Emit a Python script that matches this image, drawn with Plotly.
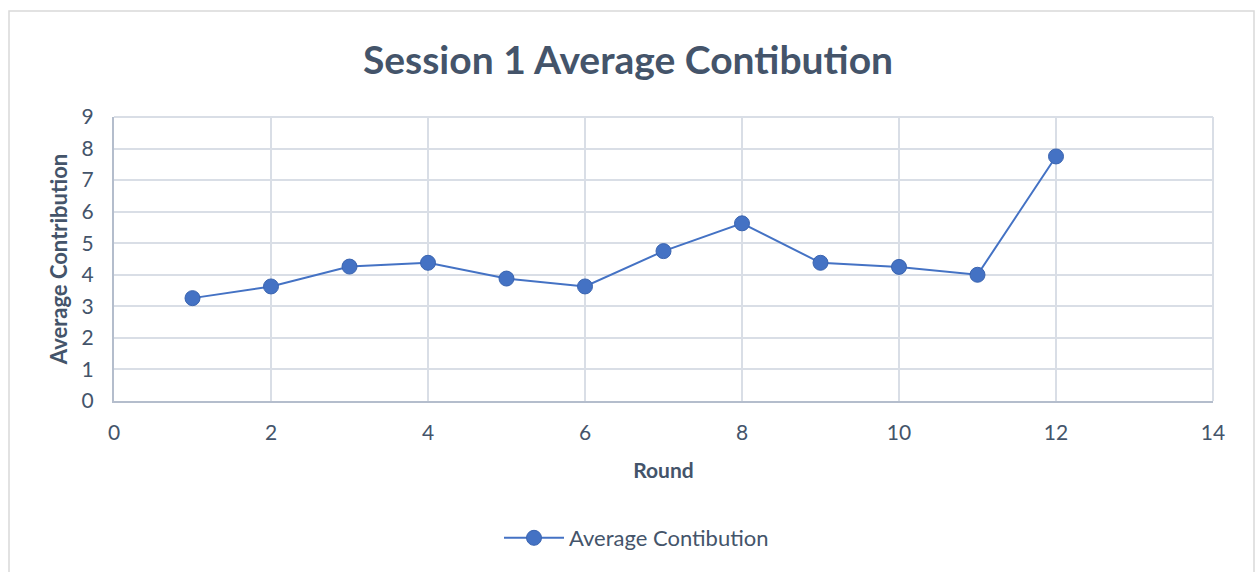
import plotly.graph_objects as go

# Session 1 data: round number vs. average contribution
rounds = [1, 2, 3, 4, 5, 6, 7, 8, 9, 10, 11, 12]
avg_contribution = [3.26, 3.63, 4.26, 4.38, 3.88, 3.63, 4.75, 5.63, 4.38, 4.25, 4.0, 7.75]

series_name = "Average Contibution"
chart_title = "Session 1 Average Contibution"
x_ticks = [0, 2, 4, 6, 8, 10, 12, 14]
y_ticks = [0, 1, 2, 3, 4, 5, 6, 7, 8, 9]

W, H = 1256, 572
ML, MR, MT, MB = 114, 43, 117, 171
PW, PH = W - ML - MR, H - MT - MB

LINE = "#4472C4"
TEXT = "#44546A"
GRID = "#D9DEE6"
AXIS = "#B4BDCC"
FONT = "Lato"

fig = go.Figure()
fig.add_trace(go.Scatter(
    x=rounds, y=avg_contribution, mode="lines+markers", name=series_name,
    line=dict(color=LINE, width=2),
    marker=dict(color=LINE, size=15, line=dict(color="#3A64B0", width=1)),
))

def px_x(p):
    return (p - ML) / PW

def px_y(p):
    return 1 - (p - MT) / PH

fig.update_layout(
    width=W, height=H,
    margin=dict(l=ML, r=MR, t=MT, b=MB),
    paper_bgcolor="white", plot_bgcolor="white",
    font=dict(family=FONT, color=TEXT),
    title=dict(text="<b>" + chart_title + "</b>", x=0.5, xanchor="center",
               y=1 - 60 / H, yanchor="middle",
               font=dict(size=39, color=TEXT, family=FONT)),
    showlegend=True,
    legend=dict(orientation="h", x=0.5 - 27 / PW, xanchor="center", y=px_y(538),
                yanchor="middle", font=dict(size=22, color=TEXT), itemwidth=60),
    xaxis=dict(range=[0, 14], tickvals=x_ticks, showgrid=True, gridcolor=GRID, gridwidth=2,
               showline=True, linecolor=AXIS, linewidth=2, zeroline=False,
               ticks="", ticklabelstandoff=12, tickfont=dict(size=21, color=TEXT),
               title=dict(text="<b>Round</b>", font=dict(size=21, color=TEXT), standoff=20)),
    yaxis=dict(range=[0, 9], tickvals=y_ticks, showgrid=True, gridcolor=GRID, gridwidth=2,
               showline=True, linecolor=AXIS, linewidth=2, zeroline=False,
               ticks="", ticklabelstandoff=14, tickfont=dict(size=21, color=TEXT),
               title=dict(text="<b>Average Contribution</b>", font=dict(size=22, color=TEXT),
                          standoff=8)),
    shapes=[
        # outer chart frame
        dict(type="rect", xref="paper", yref="paper",
             x0=px_x(9), x1=px_x(1254), y0=px_y(600), y1=px_y(11),
             line=dict(color="#D9D9D9", width=1.5), layer="below"),
        # top and right border of the plot area
        dict(type="line", xref="paper", yref="paper", x0=0, x1=1, y0=1, y1=1,
             line=dict(color=GRID, width=2), layer="below"),
        dict(type="line", xref="paper", yref="paper", x0=1, x1=1, y0=0, y1=1,
             line=dict(color=GRID, width=2), layer="below"),
    ],
)

fig.write_html("out.html")
